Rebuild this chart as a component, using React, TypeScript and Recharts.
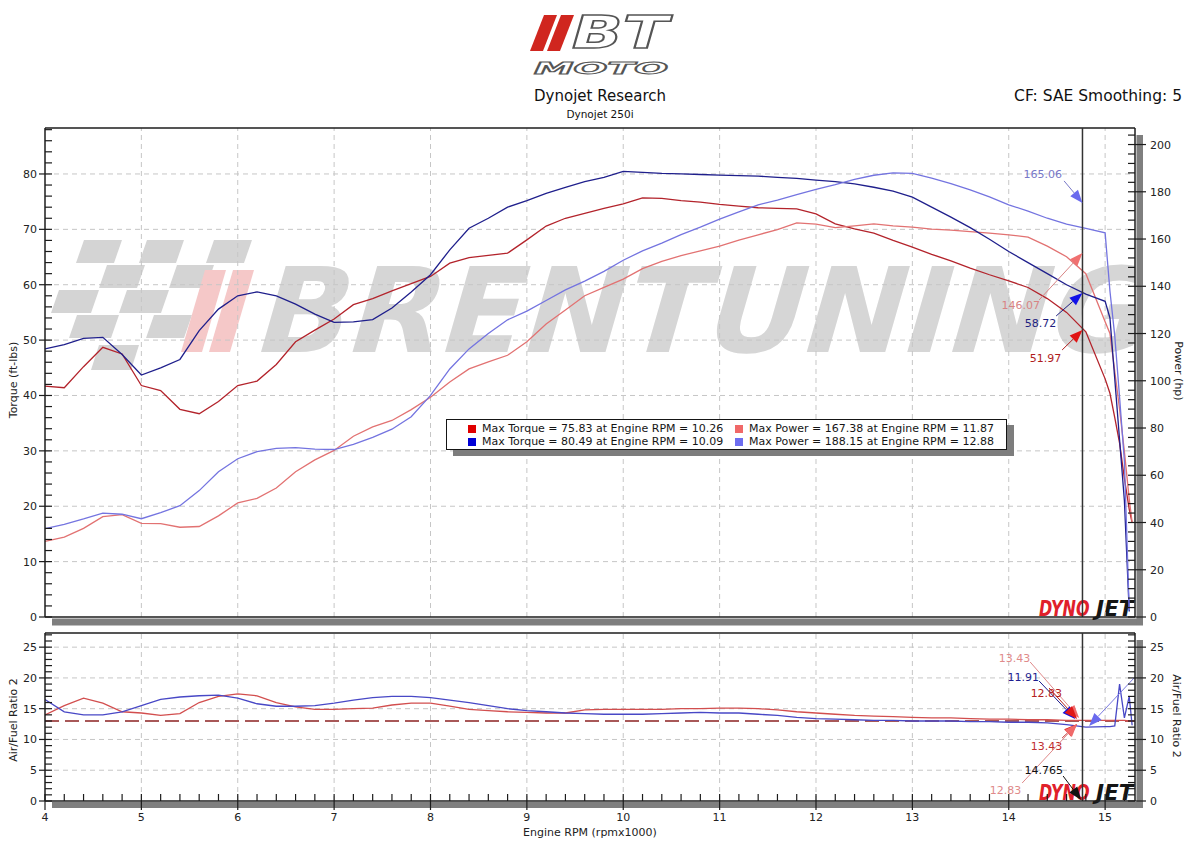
import React from 'react';
import { LineChart, Line, XAxis, YAxis, ReferenceLine } from 'recharts';

// engine speed grid, rpm x1000
const rpm = [
  4.0, 4.2, 4.4, 4.6, 4.8, 5.0, 5.2, 5.4, 5.6, 5.8,
  6.0, 6.2, 6.4, 6.6, 6.8, 7.0, 7.2, 7.4, 7.6, 7.8,
  8.0, 8.2, 8.4, 8.6, 8.8, 9.0, 9.2, 9.4, 9.6, 9.8,
  10.0, 10.2, 10.4, 10.6, 10.8, 11.0, 11.2, 11.4, 11.6, 11.8,
  12.0, 12.2, 12.4, 12.6, 12.8, 13.0, 13.2, 13.4, 13.6, 13.8,
  14.0, 14.2, 14.4, 14.6, 14.8, 15.0, 15.05, 15.1, 15.15, 15.2,
  15.25, 15.28,
];

const torqueRun1 = [
  41.7, 41.4, 45.2, 48.7, 47.5, 41.8, 40.9, 37.5, 36.7, 38.9,
  41.8, 42.6, 45.6, 49.7, 51.8, 53.8, 56.4, 57.5, 58.9, 60.2,
  61.5, 63.9, 64.9, 65.3, 65.7, 68.1, 70.6, 72.0, 72.9, 73.8,
  74.6, 75.7, 75.6, 75.2, 74.9, 74.5, 74.2, 73.9, 73.8, 73.7,
  72.8, 71.0, 70.1, 69.3, 68.0, 66.8, 65.5, 64.3, 63.0, 61.8,
  60.7, 59.5, 57.5, 55.0, 51.5, 43.0, 40.4, 36.0, 31.4, 25.0,
  19.5, 17.0,
];

const powerRun1 = [
  32.0, 33.8, 37.5, 42.5, 43.3, 39.6, 39.5, 38.0, 38.3, 42.8,
  48.3, 50.2, 54.6, 61.5, 66.5, 70.5, 76.5, 80.5, 83.2, 87.8,
  93.0, 99.5, 105.0, 108.0, 110.8, 116.5, 124.0, 130.0, 136.0, 139.5,
  143.0, 147.5, 150.5, 153.0, 155.0, 157.0, 159.5, 161.8, 164.0, 166.8,
  166.3, 164.8, 165.6, 166.4, 165.6, 165.0, 164.2, 163.8, 163.1, 162.5,
  161.8, 160.8, 157.0, 152.5, 145.3, 125.0, 120.0, 104.0, 88.0, 70.0,
  50.0, 40.0,
];

const torqueRun2 = [
  48.4, 49.2, 50.3, 50.5, 47.4, 43.7, 45.0, 46.5, 51.7, 55.6,
  58.0, 58.7, 58.0, 56.5, 54.7, 53.2, 53.3, 53.7, 55.8, 58.7,
  61.8, 66.3, 70.2, 72.0, 74.0, 75.2, 76.5, 77.6, 78.6, 79.4,
  80.45, 80.3, 80.1, 80.0, 79.9, 79.8, 79.7, 79.6, 79.4, 79.2,
  78.9, 78.6, 78.2, 77.6, 76.9, 75.8, 74.0, 72.2, 70.3, 68.2,
  66.0, 64.0, 62.0, 60.0, 58.3, 57.0, 54.0, 43.0, 32.0, 21.0,
  1.0, null,
];

const powerRun2 = [
  37.4, 39.2, 41.5, 44.0, 43.5, 41.6, 44.2, 47.1, 53.5, 61.5,
  67.0, 70.0, 71.4, 71.7, 71.1, 70.9, 73.1, 76.0, 79.5, 84.8,
  93.8, 105.0, 113.5, 120.0, 125.8, 129.5, 134.0, 138.5, 142.2, 146.3,
  151.0, 155.0, 158.3, 161.9, 165.0, 168.4, 171.5, 174.5, 176.5, 178.8,
  181.0, 183.0, 185.3, 187.0, 188.0, 187.8, 185.8, 183.5, 180.8, 177.8,
  174.5, 171.8, 168.8, 166.3, 164.5, 162.6, 138.0, 119.0, 93.0, 66.0,
  3.0, null,
];

const afrRun1 = [
  14.0, 15.5, 16.7, 15.9, 14.5, 14.3, 13.9, 14.2, 16.0, 17.0,
  17.4, 17.1, 16.0, 15.3, 14.9, 14.9, 15.0, 15.1, 15.6, 15.9,
  15.9, 15.4, 14.9, 14.7, 14.5, 14.4, 14.3, 14.3, 14.8, 14.9,
  14.9, 14.9, 14.9, 15.0, 15.0, 15.1, 15.1, 15.0, 14.8, 14.5,
  14.3, 14.1, 13.9, 13.8, 13.7, 13.6, 13.5, 13.5, 13.4, 13.3,
  13.3, 13.2, 13.2, 13.1, 13.1, 13.1, 13.1, 13.1, 13.1, 13.1,
  13.0, 13.0,
];

const afrRun2 = [
  16.5, 14.5, 14.0, 14.0, 14.5, 15.5, 16.5, 16.9, 17.1, 17.2,
  16.7, 15.8, 15.4, 15.4, 15.5, 15.9, 16.4, 16.8, 17.0, 17.0,
  16.8, 16.4, 16.0, 15.5, 15.0, 14.7, 14.5, 14.3, 14.2, 14.1,
  14.1, 14.1, 14.2, 14.3, 14.4, 14.3, 14.3, 14.1, 13.9, 13.6,
  13.4, 13.3, 13.2, 13.1, 13.1, 13.0, 13.0, 13.0, 12.9, 12.9,
  12.8, 12.8, 12.7, 12.4, 12.0, 12.1, 12.1, 12.2, 19.0, 13.5,
  17.0, 12.3,
];

const rpmTicks = [4, 5, 6, 7, 8, 9, 10, 11, 12, 13, 14, 15];
const torqueTicks = [0, 10, 20, 30, 40, 50, 60, 70, 80];
const powerTicks = [0, 20, 40, 60, 80, 100, 120, 140, 160, 180, 200];
const afrTicks = [0, 5, 10, 15, 20, 25];
const afrTarget = 13;
const cursorRpm = 14.765;

const legendNames = [
  'Max Torque = 75.83 at Engine RPM = 10.26',
  'Max Power = 167.38 at Engine RPM = 11.87',
  'Max Torque = 80.49 at Engine RPM = 10.09',
  'Max Power = 188.15 at Engine RPM = 12.88',
];

const FONT = "'DejaVu Sans', Verdana, sans-serif";
const AXIS = '#1c1c1c';
const GRID = '#c6c6c6';
const RPM_DOMAIN: [number, number] = [4, 15.31];
const TORQUE_MAX = 88.3;
const POWER_MAX = 207;
const AFR_MAX = 27.3;

const topSeries = [
  { key: 'torqueRun1', axis: 'torque', stroke: '#b3232b', swatch: '#e00000', name: legendNames[0] },
  { key: 'powerRun1', axis: 'power', stroke: '#e27272', swatch: '#f06868', name: legendNames[1] },
  { key: 'torqueRun2', axis: 'torque', stroke: '#1f1f8c', swatch: '#0000d6', name: legendNames[2] },
  { key: 'powerRun2', axis: 'power', stroke: '#7474e0', swatch: '#6e6ef0', name: legendNames[3] },
];

const topRows = rpm.map((r, i) => ({
  rpm: r,
  torqueRun1: torqueRun1[i],
  powerRun1: powerRun1[i],
  torqueRun2: torqueRun2[i],
  powerRun2: powerRun2[i],
}));

const afrRows = rpm.map((r, i) => ({ rpm: r, afrRun1: afrRun1[i], afrRun2: afrRun2[i] }));

// cursor read-outs: label sits at `from`, arrow points at `to`
const topNotes = [
  { text: '165.06', axis: 'power', from: { x: 14.574, y: 184.6 }, to: { x: 14.765, y: 175.3 }, color: '#7878c8', head: '#6a6aee', dx: -2, dy: -3 },
  { text: '146.07', axis: 'power', from: { x: 14.315, y: 134.2 }, to: { x: 14.765, y: 154.1 }, color: '#d88484', head: '#f07070', dx: 1, dy: 9 },
  { text: '58.72', axis: 'torque', from: { x: 14.492, y: 54.36 }, to: { x: 14.765, y: 58.51 }, color: '#1e1e80', head: '#1010e8', dx: 0, dy: 11 },
  { text: '51.97', axis: 'torque', from: { x: 14.554, y: 48.22 }, to: { x: 14.765, y: 51.83 }, color: '#b01c1c', head: '#e01414', dx: -1, dy: 12 },
];

const afrNotes = [
  { text: '13.43', from: { x: 14.222, y: 22.59 }, to: { x: 14.73, y: 13.49 }, color: '#e08a8a', head: '#f06a6a', dx: 0, dy: 0 },
  { text: '11.91', from: { x: 14.315, y: 19.5 }, to: { x: 14.689, y: 13.32 }, color: '#1e1e90', head: '#1010e0', dx: 0, dy: 0 },
  { text: '12.83', from: { x: 14.419, y: 18.35 }, to: { x: 14.709, y: 13.32 }, color: '#b42020', head: '#e01818', dx: 13, dy: 9 },
  { text: '13.43', from: { x: 14.554, y: 10.24 }, to: { x: 14.709, y: 12.51 }, color: '#c03030', head: '#e01818', dx: 0, dy: 12 },
  { text: '12.83', from: { x: 14.139, y: 2.92 }, to: { x: 14.709, y: 12.51 }, color: '#e08a8a', head: '#f06a6a', dx: -1, dy: 11 },
  { text: '14.765', from: { x: 14.564, y: 4.06 }, to: { x: 14.751, y: 0.16 }, color: '#111111', head: '#111111', dx: 0, dy: -2 },
  { text: '', from: { x: 15.3, y: 19.99 }, to: { x: 14.834, y: 12.19 }, color: '#7a7ae0', head: '#6a6aee', dx: 0, dy: 0 },
];

const range = (a: number, b: number, s: number) => {
  const out: number[] = [];
  for (let v = a; v <= b + 1e-9; v += s) out.push(Math.round(v * 100) / 100);
  return out;
};
const isMajor = (v: number, step: number) => Math.abs(v / step - Math.round(v / step)) < 1e-6;

const torqueMinor = range(0, 88, 2);
const powerMinor = range(0, 204, 4);
const afrMinor = range(0, 27, 1);
const rpmMinor = range(4, 15.2, 0.2);

const leftTick = (step: number) => (p: any) => {
  const v = p.payload.value;
  const major = isMajor(v, step);
  return (
    <g>
      <line x1={p.x - (major ? 6 : 0)} x2={p.x + 7} y1={p.y} y2={p.y} stroke={AXIS} strokeWidth={1.2} />
      {major && (
        <text x={p.x - 8} y={p.y + 4} textAnchor="end" fontSize={11} fill="#222" fontFamily={FONT}>{v}</text>
      )}
    </g>
  );
};

const rightTick = (step: number) => (p: any) => {
  const v = p.payload.value;
  const major = isMajor(v, step);
  return (
    <g>
      <line x1={p.x - 7} x2={p.x + (major ? 11 : 0)} y1={p.y} y2={p.y} stroke={AXIS} strokeWidth={1.2} />
      {major && (
        <text x={p.x + 15} y={p.y + 4} textAnchor="start" fontSize={11} fill="#222" fontFamily={FONT}>{v}</text>
      )}
    </g>
  );
};

const bottomTick = (p: any) => {
  const v = p.payload.value;
  const major = isMajor(v, 1);
  return (
    <g>
      <line x1={p.x} x2={p.x} y1={p.y - 7} y2={p.y + (major ? 9 : 0)} stroke={AXIS} strokeWidth={1.2} />
      {major && (
        <text x={p.x} y={p.y + 20} textAnchor="middle" fontSize={11} fill="#222" fontFamily={FONT}>{Math.round(v)}</text>
      )}
    </g>
  );
};

const arrowShape = (note: any) => (p: any) => {
  const { x1, y1, x2, y2 } = p;
  const ang = Math.atan2(y2 - y1, x2 - x1);
  const len = 13;
  const half = 5;
  const bx = x2 - len * Math.cos(ang);
  const by = y2 - len * Math.sin(ang);
  const nx = -Math.sin(ang) * half;
  const ny = Math.cos(ang) * half;
  return (
    <g>
      <line x1={x1} y1={y1} x2={bx} y2={by} stroke={note.color} strokeWidth={1} />
      <polygon points={`${x2},${y2} ${bx + nx},${by + ny} ${bx - nx},${by - ny}`} fill={note.head} />
      {note.text && (
        <text x={x1 + note.dx} y={y1 + note.dy} textAnchor="end" fontSize={11} fill={note.color} fontFamily={FONT}>
          {note.text}
        </text>
      )}
    </g>
  );
};

// checkered flag cells of the watermark: [left, right, top, bottom]
const flagCells = [
  [80, 118, 240, 263], [143, 180, 240, 263], [210, 248, 240, 263],
  [103, 141, 265, 288], [173, 210, 265, 288],
  [55, 95, 290, 313], [123, 165, 290, 313],
  [73, 115, 315, 338], [150, 188, 315, 338],
  [95, 135, 345, 370],
];

function Backdrop() {
  const slant = (l: number, r: number, t: number, b: number, s: number) =>
    `${l + s / 2},${t} ${r + s / 2},${t} ${r - s / 2},${b} ${l - s / 2},${b}`;
  return (
    <svg width={1200} height={854} style={{ position: 'absolute', left: 0, top: 0 }} fontFamily={FONT}>
      <defs>
        <clipPath id="topPlot">
          <rect x={45} y={128} width={1090} height={489} />
        </clipPath>
      </defs>

      {/* BT MOTO logo */}
      <polygon points={slant(537, 550, 15, 51, 14)} fill="#d0261f" />
      <polygon points={slant(554, 567, 15, 51, 14)} fill="#d0261f" />
      <text x={572} y={48} fontSize={44} fontWeight="bold" fontStyle="italic" fill="#fff" stroke="#555" strokeWidth={1.5}
        textLength={96} lengthAdjust="spacingAndGlyphs">BT</text>
      <text x={534} y={74} fontSize={15} fontWeight="bold" fontStyle="italic" fill="#fff" stroke="#555" strokeWidth={1}
        textLength={134} lengthAdjust="spacingAndGlyphs">MOTO</text>

      <text x={600} y={101} textAnchor="middle" fontSize={15} fill="#111">Dynojet Research</text>
      <text x={600} y={118} textAnchor="middle" fontSize={10.5} fill="#111">Dynojet 250i</text>
      <text x={1182} y={101} textAnchor="end" fontSize={15.5} fill="#111">CF: SAE Smoothing: 5</text>

      {/* watermark */}
      <g clipPath="url(#topPlot)">
        {flagCells.map(([l, r, t, b], i) => (
          <polygon key={i} points={slant(l, r, t, b, 8)} fill="#d4d4d4" />
        ))}
        <polygon points={slant(193, 214, 270, 352, 24)} fill="#f5c8c8" />
        <polygon points={slant(221, 242, 270, 352, 24)} fill="#f5c8c8" />
        <text transform="translate(250,352) skewX(-16)" fontSize={118} fontWeight="bold" fill="#d6d6d6"
          textLength={890} lengthAdjust="spacingAndGlyphs">BRENTUNING</text>
      </g>

      {/* panel shadows */}
      <rect x={52} y={618.5} width={1091} height={7} fill="#7f7f7f" />
      <rect x={1136.5} y={135} width={6.5} height={490} fill="#7f7f7f" />
      <rect x={52} y={802} width={1091} height={6} fill="#7f7f7f" />
      <rect x={1136.5} y={640} width={6.5} height={168} fill="#7f7f7f" />

      {/* axis titles */}
      <text x={17} y={380} transform="rotate(-90,17,380)" textAnchor="middle" fontSize={11} fill="#222">Torque (ft-lbs)</text>
      <text x={1175} y={371} transform="rotate(90,1175,371)" textAnchor="middle" fontSize={11} fill="#222">Power (hp)</text>
      <text x={17} y={720} transform="rotate(-90,17,720)" textAnchor="middle" fontSize={11} fill="#222">Air/Fuel Ratio 2</text>
      <text x={1173} y={716} transform="rotate(90,1173,716)" textAnchor="middle" fontSize={11} fill="#222">Air/Fuel Ratio 2</text>
      <text x={590} y={836} textAnchor="middle" fontSize={11} fill="#222">Engine RPM (rpmx1000)</text>

      {/* dynojet marks */}
      {[616, 800].map((y) => (
        <g key={y} fontWeight="bold" fontStyle="italic" fontSize={16}>
          <text transform={`translate(1039,${y}) scale(1,1.35)`} fill="#e0202a">DYNO</text>
          <text transform={`translate(1096,${y}) scale(1.35,1.35)`} fill="#151515">JET</text>
        </g>
      ))}
    </svg>
  );
}

function LegendBox() {
  return (
    <div
      style={{
        position: 'absolute', left: 446, top: 419, width: 561, height: 31, boxSizing: 'border-box',
        border: '1.5px solid #151515', background: '#fff', boxShadow: '7px 6px 0 #7d7d7d',
        fontFamily: FONT, fontSize: 11, color: '#151515',
      }}
    >
      {topSeries.map((s, i) => (
        <div key={s.key} style={{
          position: 'absolute', left: 21 + (i % 2) * 267, top: 2 + Math.floor(i / 2) * 13,
          height: 13, lineHeight: '13px', whiteSpace: 'nowrap',
        }}>
          <span style={{ display: 'inline-block', width: 8, height: 8, background: s.swatch, marginRight: 6, verticalAlign: -0.5 }} />
          {s.name}
        </div>
      ))}
    </div>
  );
}

export default function App() {
  return (
    <div style={{ position: 'absolute', left: 0, top: 0, width: 1200, height: 854, background: '#fff', overflow: 'hidden', fontFamily: FONT }}>
      <Backdrop />

      <div style={{ position: 'absolute', left: 0, top: 0 }}>
        <LineChart width={1200} height={640} data={topRows} margin={{ top: 128, right: 5, bottom: 22, left: 5 }}>
          <XAxis dataKey="rpm" type="number" domain={RPM_DOMAIN} allowDataOverflow ticks={rpmTicks}
            tick={false} tickLine={false} height={1} axisLine={{ stroke: AXIS, strokeWidth: 1.5 }} />
          <YAxis yAxisId="torque" orientation="left" width={40} domain={[0, TORQUE_MAX]} allowDataOverflow
            ticks={torqueMinor} interval={0} tickSize={0} tickMargin={0} tickLine={false}
            axisLine={{ stroke: AXIS, strokeWidth: 1.5 }} tick={leftTick(10)} />
          <YAxis yAxisId="power" orientation="right" width={60} domain={[0, POWER_MAX]} allowDataOverflow
            ticks={powerMinor} interval={0} tickSize={0} tickMargin={0} tickLine={false}
            axisLine={{ stroke: AXIS, strokeWidth: 1.5 }} tick={rightTick(20)} />

          {rpmTicks.slice(1).map((r) => (
            <ReferenceLine key={`vx${r}`} x={r} yAxisId="torque" stroke={GRID} strokeDasharray="5 4" />
          ))}
          {torqueTicks.slice(1).map((t) => (
            <ReferenceLine key={`hy${t}`} y={t} yAxisId="torque" stroke={GRID} strokeDasharray="5 4" />
          ))}
          <ReferenceLine y={TORQUE_MAX} yAxisId="torque" stroke={AXIS} strokeWidth={1.5} />

          {topSeries.map((s) => (
            <Line key={s.key} yAxisId={s.axis} dataKey={s.key} name={s.name} type="linear" stroke={s.stroke}
              strokeWidth={1.3} dot={false} activeDot={false} isAnimationActive={false} />
          ))}

          <ReferenceLine x={cursorRpm} yAxisId="torque" stroke="#333" strokeWidth={1.5} />
          {topNotes.map((n, i) => (
            <ReferenceLine key={`tn${i}`} yAxisId={n.axis} segment={[n.from, n.to]} ifOverflow="visible" shape={arrowShape(n)} />
          ))}
        </LineChart>
      </div>

      <div style={{ position: 'absolute', left: 0, top: 620 }}>
        <LineChart width={1200} height={234} data={afrRows} margin={{ top: 13, right: 5, bottom: 52, left: 5 }}>
          <XAxis dataKey="rpm" type="number" domain={RPM_DOMAIN} allowDataOverflow ticks={rpmMinor} interval={0}
            tickSize={0} tickMargin={0} tickLine={false} height={1} axisLine={{ stroke: AXIS, strokeWidth: 1.5 }}
            tick={bottomTick} />
          <YAxis yAxisId="afr" orientation="left" width={40} domain={[0, AFR_MAX]} allowDataOverflow
            ticks={afrMinor} interval={0} tickSize={0} tickMargin={0} tickLine={false}
            axisLine={{ stroke: AXIS, strokeWidth: 1.5 }} tick={leftTick(5)} />
          <YAxis yAxisId="afrRight" orientation="right" width={60} domain={[0, AFR_MAX]} allowDataOverflow
            ticks={afrMinor} interval={0} tickSize={0} tickMargin={0} tickLine={false}
            axisLine={{ stroke: AXIS, strokeWidth: 1.5 }} tick={rightTick(5)} />

          {rpmTicks.slice(1).map((r) => (
            <ReferenceLine key={`bvx${r}`} x={r} yAxisId="afr" stroke={GRID} strokeDasharray="5 4" />
          ))}
          {afrTicks.slice(1).map((t) => (
            <ReferenceLine key={`bhy${t}`} y={t} yAxisId="afr" stroke={GRID} strokeDasharray="5 4" />
          ))}
          <ReferenceLine y={AFR_MAX} yAxisId="afr" stroke={AXIS} strokeWidth={1.5} />
          <ReferenceLine y={afrTarget} yAxisId="afr" stroke="#8c2222" strokeWidth={1.5} strokeDasharray="14 6" />

          <Line yAxisId="afr" dataKey="afrRun1" type="linear" stroke="#d24e4e" strokeWidth={1.3}
            dot={false} activeDot={false} isAnimationActive={false} />
          <Line yAxisId="afr" dataKey="afrRun2" type="linear" stroke="#4848c6" strokeWidth={1.3}
            dot={false} activeDot={false} isAnimationActive={false} />

          <ReferenceLine x={cursorRpm} yAxisId="afr" stroke="#333" strokeWidth={1.5} />
          {afrNotes.map((n, i) => (
            <ReferenceLine key={`an${i}`} yAxisId="afr" segment={[n.from, n.to]} ifOverflow="visible" shape={arrowShape(n)} />
          ))}
        </LineChart>
      </div>

      <LegendBox />
    </div>
  );
}
